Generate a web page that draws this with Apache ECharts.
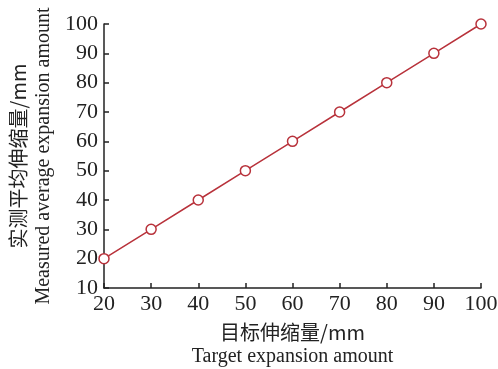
<!DOCTYPE html>
<html>
<head>
<meta charset="utf-8">
<script src="https://cdn.jsdelivr.net/npm/echarts@6/dist/echarts.min.js"></script>
<style>
  html, body { margin: 0; padding: 0; background: #fff; }
  #chart { width: 498px; height: 369px; }
</style>
</head>
<body>
<div id="chart"></div>
<script>
var targetValues = [20, 30, 40, 50, 60, 70, 80, 90, 100];
var measuredValues = [20, 30, 40, 50, 60, 70, 80, 90, 100];

var serif = '"Liberation Serif", "DejaVu Serif", serif';
var cjk = '"Noto Sans CJK SC", sans-serif';
var red = '#b8323b';

var mychart = echarts.init(document.getElementById('chart'));
var pts = [];
for (var i = 0; i < targetValues.length; i++) {
    pts.push([targetValues[i], measuredValues[i]]);
}

var option = {
    animation: false,
    backgroundColor: '#fff',
    grid: {left: 104, right: 17, top: 24, bottom: 81, containLabel: false, outerBoundsMode: 'none'},
    xAxis: {
        type: 'value',
        min: 20,
        max: 100,
        interval: 10,
        name: '{a|目标伸缩量/mm}\n{b|Target expansion amount}',
        nameLocation: 'middle',
        nameGap: 31,
        nameTextStyle: {
            rich: {
                a: {fontFamily: cjk, fontSize: 20, color: '#222', lineHeight: 26},
                b: {fontFamily: serif, fontSize: 20, color: '#222', lineHeight: 24}
            }
        },
        axisLine: {lineStyle: {color: '#222', width: 1.5}},
        axisTick: {inside: true, length: 5, lineStyle: {color: '#222', width: 1.5}},
        axisLabel: {fontFamily: serif, fontSize: 22, color: '#222', margin: 5},
        splitLine: {show: false}
    },
    yAxis: {
        type: 'value',
        min: 10,
        max: 100,
        interval: 10,
        name: '{a|实测平均伸缩量/mm}\n{b|Measured average expansion amount}',
        nameLocation: 'middle',
        nameRotate: 90,
        nameGap: 47,
        nameTextStyle: {
            rich: {
                a: {fontFamily: cjk, fontSize: 20, color: '#222', lineHeight: 27},
                b: {fontFamily: serif, fontSize: 20, color: '#222', lineHeight: 25}
            }
        },
        axisLine: {lineStyle: {color: '#222', width: 1.5}},
        axisTick: {inside: true, length: 5, lineStyle: {color: '#222', width: 1.5}},
        axisLabel: {fontFamily: serif, fontSize: 22, color: '#222', margin: 6},
        splitLine: {show: false}
    },
    series: [{
        type: 'line',
        data: pts,
        symbol: 'circle',
        symbolSize: 10,
        lineStyle: {color: red, width: 1.5},
        itemStyle: {color: '#fff', borderColor: red, borderWidth: 1.5}
    }]
};
mychart.setOption(option);
</script>
</body>
</html>
